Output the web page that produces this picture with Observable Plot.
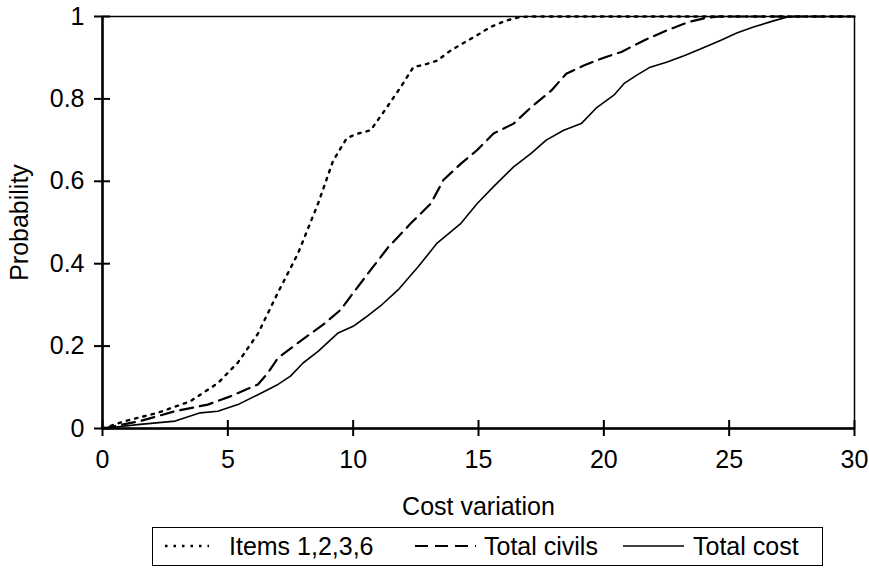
<!DOCTYPE html>
<html>
<head>
<meta charset="utf-8">
<script src="https://cdn.jsdelivr.net/npm/d3@7"></script>
<script src="https://cdn.jsdelivr.net/npm/@observablehq/plot@0.6"></script>
<style>
  html, body { margin: 0; padding: 0; background: #fff; }
  body { width: 869px; height: 568px; overflow: hidden; font-family: "Liberation Sans", Arial, sans-serif; }
  #legend { position: relative; margin-left: 152px; margin-top: 7px; width: 671px; height: 39px; box-sizing: border-box; border: 1.5px solid #000; font-size: 25px; color: #000; }
  #legend .sw { position: absolute; top: 13px; }
  #legend .lab { position: absolute; top: 3px; white-space: nowrap; line-height: 30px; }
</style>
</head>
<body>
<div id="chart"></div>
<div id="legend"></div>
<script>
// ---- Data ----
const seriesNames = ["Items 1,2,3,6", "Total civils", "Total cost"];

const itemsX = [0, 0.9, 2.2, 3.5, 4.6, 5.4, 6.2, 7.0, 7.8, 8.6, 9.2, 9.75, 10.2, 10.7, 11.35, 11.9, 12.4, 12.95, 13.35, 13.9, 14.7, 15.5, 16.1, 16.6, 17.0, 30];
const itemsY = [0, 0.018, 0.038, 0.066, 0.11, 0.16, 0.23, 0.33, 0.425, 0.546, 0.65, 0.705, 0.716, 0.724, 0.78, 0.829, 0.877, 0.885, 0.893, 0.918, 0.946, 0.975, 0.99, 0.998, 1, 1];

const civilsX = [0, 1.5, 2.9, 4.2, 5.1, 6.2, 6.6, 7.0, 7.8, 8.8, 9.5, 10.0, 10.7, 11.4, 12.3, 13.1, 13.6, 14.3, 14.95, 15.6, 16.4, 17.1, 17.9, 18.5, 19.2, 20.0, 20.7, 21.6, 22.5, 23.4, 24.1, 24.6, 30];
const civilsY = [0, 0.018, 0.042, 0.058, 0.078, 0.107, 0.135, 0.171, 0.208, 0.252, 0.288, 0.329, 0.385, 0.44, 0.498, 0.546, 0.603, 0.643, 0.676, 0.716, 0.74, 0.78, 0.82, 0.861, 0.881, 0.90, 0.914, 0.942, 0.966, 0.987, 0.997, 1, 1];

const costX = [0, 1.5, 2.9, 3.9, 4.6, 5.4, 6.2, 7.0, 7.5, 8.0, 8.6, 9.4, 10.0, 10.5, 11.1, 11.8, 12.6, 13.35, 14.3, 14.95, 15.6, 16.4, 17.1, 17.7, 18.4, 19.1, 19.7, 20.4, 20.8, 21.3, 21.85, 22.5, 23.2, 23.85, 24.65, 25.3, 26.0, 26.8, 27.3, 27.6, 30];
const costY = [0, 0.01, 0.018, 0.038, 0.042, 0.058, 0.082, 0.107, 0.127, 0.159, 0.187, 0.232, 0.248, 0.27, 0.298, 0.337, 0.393, 0.45, 0.498, 0.546, 0.587, 0.635, 0.668, 0.70, 0.724, 0.74, 0.778, 0.809, 0.837, 0.857, 0.877, 0.889, 0.905, 0.921, 0.942, 0.96, 0.975, 0.99, 0.998, 1, 1];

const xTicks = [0, 5, 10, 15, 20, 25, 30];
const yTicks = [0, 0.2, 0.4, 0.6, 0.8, 1];
const yTickLabels = ["0", "0.2", "0.4", "0.6", "0.8", "1"];
const xLabel = "Cost variation";
const yLabel = "Probability";

// ---- Build tables ----
const toRows = (xs, ys) => xs.map((x, i) => ({x, y: ys[i]}));
const items = toRows(itemsX, itemsY);
const civils = toRows(civilsX, civilsY);
const cost = toRows(costX, costY);

const styles = [
  {dash: "2.5,6", width: 2.4},
  {dash: "13,7", width: 2.2},
  {dash: null, width: 1.6}
];

const font = '"Liberation Sans", Arial, sans-serif';

const chart = Plot.plot({
  width: 869,
  height: 520,
  marginTop: 16,
  marginLeft: 102,
  marginRight: 15,
  marginBottom: 92,
  style: {fontFamily: font, fontSize: "25px", color: "#000", background: "#fff"},
  x: {domain: [0, 30]},
  y: {domain: [0, 1]},
  marks: [
    Plot.frame({stroke: "#000", strokeWidth: 1.5}),
    Plot.line(items, {x: "x", y: "y", stroke: "#000", strokeWidth: styles[0].width, strokeDasharray: styles[0].dash}),
    Plot.line(civils, {x: "x", y: "y", stroke: "#000", strokeWidth: styles[1].width, strokeDasharray: styles[1].dash}),
    Plot.line(cost, {x: "x", y: "y", stroke: "#000", strokeWidth: styles[2].width}),
    Plot.ruleY([0], {stroke: "#000", strokeWidth: 2.5}),
    Plot.ruleX([0], {stroke: "#000", strokeWidth: 2.5}),
    // inner halves of the crossing tick marks
    Plot.tickX(xTicks, {x: d => d, stroke: "#000", strokeWidth: 2, insetTop: 404}),
    Plot.tickY(yTicks, {y: d => d, stroke: "#000", strokeWidth: 2, insetRight: 744}),
    Plot.axisX({ticks: xTicks, tickSize: 8, tickPadding: 14, strokeWidth: 2, label: xLabel, labelAnchor: "center", labelArrow: "none", labelOffset: 86, fontSize: 25}),
    Plot.axisY({ticks: yTicks, tickFormat: d => yTickLabels[yTicks.indexOf(d)], tickSize: 8, tickPadding: 10, strokeWidth: 2, label: yLabel, labelAnchor: "center", labelArrow: "none", labelOffset: 92, fontSize: 25})
  ]
});
document.getElementById("chart").appendChild(chart);

// ---- Legend ----
const legend = document.getElementById("legend");
const legendPos = [{sw: 12, swW: 44, lab: 76}, {sw: 262, swW: 61, lab: 331}, {sw: 470, swW: 61, lab: 540}];
seriesNames.forEach((name, i) => {
  const w = legendPos[i].swW;
  const svg = d3.create("svg").attr("class", "sw").attr("width", w).attr("height", 10)
    .style("left", legendPos[i].sw + "px");
  svg.append("line").attr("x1", 0).attr("x2", w).attr("y1", 5).attr("y2", 5)
    .attr("stroke", "#000").attr("stroke-width", styles[i].width)
    .attr("stroke-dasharray", styles[i].dash);
  legend.appendChild(svg.node());
  const span = document.createElement("span");
  span.className = "lab";
  span.style.left = legendPos[i].lab + "px";
  span.textContent = name;
  legend.appendChild(span);
});
</script>
</body>
</html>
